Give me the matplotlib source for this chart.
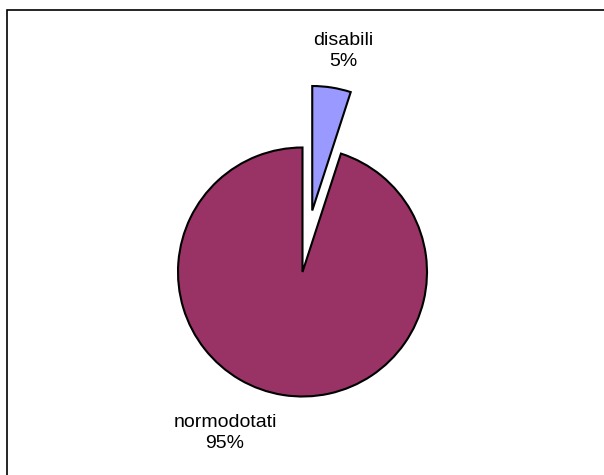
import matplotlib
matplotlib.use("Agg")
import matplotlib.pyplot as plt
from matplotlib.patches import Rectangle

categories = ["disabili", "normodotati"]
values = [5, 95]
colors = ["#9999FF", "#993366"]
explode = [0.5, 0.0]

W, H = 604, 475
fig = plt.figure(figsize=(W / 100, H / 100), dpi=100)
fig.patch.set_facecolor("white")

# pie centre / radius in pixels
cx, cy, r = 302.5, 272.0, 124.5
ax = fig.add_axes([0, 0, 1, 1])
ax.axis("off")

ax.pie(values, colors=colors, explode=explode, startangle=90, counterclock=False,
       radius=1.0, wedgeprops=dict(edgecolor="black", linewidth=1.5),
       normalize=True)
ax.set_aspect("auto")
ax.set_xlim(-cx / r, (W - cx) / r)
ax.set_ylim(-(H - cy) / r, cy / r)

def px(x, y):
    return (x - cx) / r, (cy - y) / r

font = dict(family=["Liberation Sans", "DejaVu Sans"], fontsize=14, color="black",
            ha="center", va="center", linespacing=1.35)
labels = [f"{c}\n{v}%" for c, v in zip(categories, values)]
ax.text(*px(343, 51), labels[0], **font)
ax.text(*px(225, 433), labels[1], **font)

# chart border (only left and top edges fall inside the image)
fig.patches.append(Rectangle((7, -30), W + 40, H - 10 + 30, transform=None,
                             fill=False, edgecolor="black", linewidth=1.2))

fig.savefig("out.png", dpi=100)
